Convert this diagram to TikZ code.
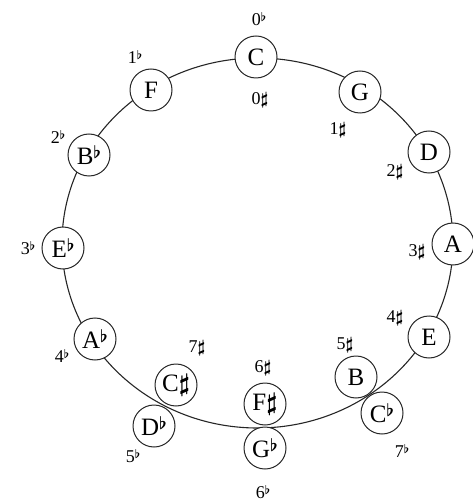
\documentclass[tikz,border=0pt]{standalone}
\usepackage{fontspec}
\setmainfont{Liberation Serif}
\newcommand{\fl}{\raisebox{0.25em}{\boldmath$\scriptstyle\flat$}}
\newcommand{\sh}{{\boldmath$\sharp$}}
\begin{document}
\begin{tikzpicture}[x=1pt,y=-1pt,
  note/.style={circle, draw=black!85, fill=white, minimum size=42pt, inner sep=0pt, line width=1pt, font=\fontsize{25}{28}\selectfont},
  lab/.style={inner sep=0pt, font=\fontsize{18}{21}\selectfont}]
\useasboundingbox (0,0) rectangle (472,502);
\draw[line width=1.1pt, black!85] (257.5,243) ellipse [x radius=195.5, y radius=185];
% key nodes
\node[note] (C)  at (256,57)  {C};
\node[note] (G)  at (360,92)  {G};
\node[note] (D)  at (429,152) {D};
\node[note] (A)  at (453,244) {A};
\node[note] (E)  at (429,337) {E};
\node[note] (B)  at (356,377) {B};
\node[note] (Cb) at (382,413) {C\fl};
\node[note] (Fs) at (265,404) {F\sh};
\node[note] (Gb) at (265,448) {G\fl};
\node[note] (Cs) at (176,385) {C\sh};
\node[note] (Db) at (154,426) {D\fl};
\node[note] (Ab) at (95,339)  {A\fl};
\node[note] (Eb) at (63,248)  {E\fl};
\node[note] (Bb) at (89,155)  {B\fl};
\node[note] (F)  at (151,90)  {F};
% labels
\node[lab] (l0b) at (259,19)  {0\fl};
\node[lab] (l0s) at (260,100) {0\sh};
\node[lab] (l1b) at (135,57)  {1\fl};
\node[lab] (l1s) at (338,130) {1\sh};
\node[lab] (l2b) at (58,137)  {2\fl};
\node[lab] (l2s) at (395,172) {2\sh};
\node[lab] (l3b) at (28,248)  {3\fl};
\node[lab] (l3s) at (417,252) {3\sh};
\node[lab] (l4b) at (62,356)  {4\fl};
\node[lab] (l4s) at (395,318) {4\sh};
\node[lab] (l5b) at (133,456) {5\fl};
\node[lab] (l5s) at (345,345) {5\sh};
\node[lab] (l6b) at (263,492) {6\fl};
\node[lab] (l6s) at (263,368) {6\sh};
\node[lab] (l7b) at (402,451) {7\fl};
\node[lab] (l7s) at (197,348) {7\sh};
\end{tikzpicture}
\end{document}
